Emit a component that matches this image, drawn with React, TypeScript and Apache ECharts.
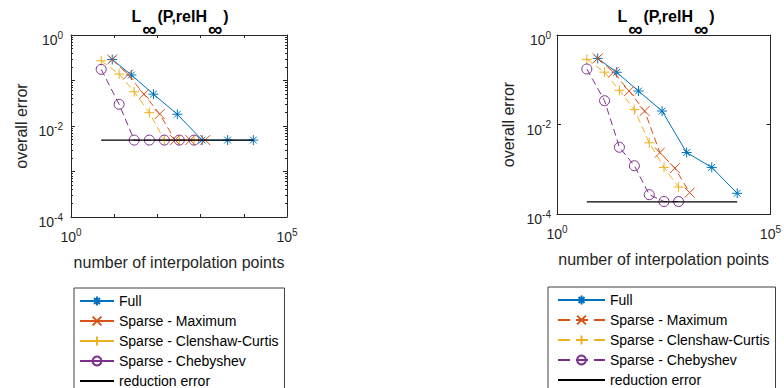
import React, { useEffect, useRef } from 'react';
import * as echarts from 'echarts';

// ---------- data ----------
const seriesNames = ['Full', 'Sparse - Maximum', 'Sparse - Clenshaw-Curtis', 'Sparse - Chebyshev', 'reduction error'];

const fullPoints = [9, 25, 81, 289, 1089, 4225, 16641];
const maxPoints = [9, 21, 49, 113, 257, 577, 1281];
const ccPoints = [5, 13, 29, 65, 145, 321, 705];
const chebPoints = [5, 13, 29, 65, 145, 321, 705];
const reductionPoints = [5, 16641];

const fullErrLeft = [0.29, 0.132, 0.05, 0.0181, 0.0049, 0.0049, 0.0049];
const maxErrLeft = [0.29, 0.135, 0.05, 0.0183, 0.0049, 0.0049, 0.0049];
const ccErrLeft = [0.272, 0.139, 0.0567, 0.0196, 0.0049, 0.0049, 0.0049];
const chebErrLeft = [0.176, 0.03, 0.0049, 0.0049, 0.0049, 0.0049, 0.0049];
const reductionLeft = [0.0049, 0.0049];

const fullErrRight = [0.3, 0.147, 0.056, 0.02, 0.00236, 0.0011, 0.00029];
const maxErrRight = [0.3, 0.147, 0.056, 0.02, 0.00236, 0.00106, 0.0003];
const ccErrRight = [0.285, 0.148, 0.058, 0.0215, 0.0039, 0.0011, 0.0004];
const chebErrRight = [0.174, 0.034, 0.0031, 0.0012, 0.00027, 0.00019, 0.00019];
const reductionRight = [0.000186, 0.000186];

// ---------- styles ----------
const FONT = '"Liberation Sans", Arial, Helvetica, sans-serif';
const TXT = '#262626';
const COLORS = ['#0072BD', '#D95319', '#EDB120', '#7E2F8E', '#000000'];
const STAR = 'path://M5,0L5,10M0,5L10,5M1.6,1.6L8.4,8.4M1.6,8.4L8.4,1.6';
const CROSS = 'path://M0,0L10,10M0,10L10,0';
const PLUS = 'path://M5,0L5,10M0,5L10,5';

const pairs = (xs: number[], ys: number[]) => xs.map((x, i) => [x, ys[i]]);

const labelRich = {
  a: { fontSize: 14, lineHeight: 20, fontFamily: FONT, color: TXT },
  b: { fontSize: 10, lineHeight: 10, verticalAlign: 'top', fontFamily: FONT, color: TXT },
};

const supFormatter = (show: (e: number) => boolean) => (v: number) => {
  const e = Math.round(Math.log10(v));
  return show(e) ? `{a|10}{b|${e}}` : '';
};

function makeSeries(xi: number, yi: number, errs: number[][]) {
  const pts = [fullPoints, maxPoints, ccPoints, chebPoints];
  const syms = [STAR, CROSS, PLUS, 'circle'];
  const out: any[] = pts.map((p, k) => ({
    type: 'line',
    name: seriesNames[k],
    xAxisIndex: xi,
    yAxisIndex: yi,
    data: pairs(p, errs[k]),
    symbol: syms[k],
    symbolSize: 10,
    showSymbol: true,
    itemStyle: { color: 'none', borderColor: COLORS[k], borderWidth: 1 },
    lineStyle: { color: COLORS[k], width: 1, type: k === 0 ? 'solid' : [7, 4] },
    emphasis: { disabled: true },
    z: 2 + k,
  }));
  out.push({
    type: 'line',
    name: seriesNames[4],
    xAxisIndex: xi,
    yAxisIndex: yi,
    data: pairs(reductionPoints, errs[4]),
    symbol: 'circle',
    showSymbol: false,
    itemStyle: { color: COLORS[4], opacity: 0 },
    lineStyle: { color: COLORS[4], width: 1.2, type: 'solid' },
    emphasis: { disabled: true },
    z: 10,
  });
  return out;
}

function xAxes(gridIndex: number, minor: boolean, labelInterval: number) {
  const base = {
    type: 'log',
    logBase: 10,
    gridIndex,
    min: 1,
    max: 100000,
    interval: minor ? 1 : 5,
    splitLine: { show: false },
    axisLine: { show: true, lineStyle: { color: TXT, width: 1 } },
    axisTick: { show: true, inside: true, length: 3, lineStyle: { color: TXT } },
  };
  return [
    {
      ...base,
      position: 'bottom',
      name: 'number of interpolation points',
      nameLocation: 'middle',
      nameGap: 37,
      nameTextStyle: { fontSize: 16, fontFamily: FONT, color: TXT },
      axisLabel: {
        margin: 10,
        formatter: supFormatter((e) => e % labelInterval === 0),
        rich: labelRich,
      },
    },
    { ...base, position: 'top', axisLabel: { show: false } },
  ];
}

function yAxes(gridIndex: number, minor: boolean, margin: number, nameGap: number) {
  const base = {
    type: 'log',
    logBase: 10,
    gridIndex,
    min: 0.0001,
    max: 1,
    interval: minor ? 1 : 2,
    splitLine: { show: false },
    axisLine: { show: true, lineStyle: { color: TXT, width: 1 } },
    axisTick: { show: true, inside: true, length: 4, lineStyle: { color: TXT } },
    minorTick: { show: minor, splitNumber: 9, length: 2, lineStyle: { color: TXT } },
  };
  return [
    {
      ...base,
      position: 'left',
      name: 'overall error',
      nameLocation: 'middle',
      nameGap,
      nameTextStyle: { fontSize: 16, fontFamily: FONT, color: TXT },
      axisLabel: {
        margin,
        padding: [10, 0, 0, 0],
        formatter: supFormatter((e) => e % 2 === 0),
        rich: labelRich,
      },
    },
    { ...base, position: 'right', axisLabel: { show: false } },
  ];
}

const titleRich = {
  b: { fontSize: 16, fontWeight: 'bold', lineHeight: 20, verticalAlign: 'top', fontFamily: FONT, color: '#000' },
  s: { fontSize: 20, fontWeight: 'bold', lineHeight: 12, padding: [11, 1, 0, 1], verticalAlign: 'top', fontFamily: FONT, color: '#000' },
};
const titleText = '{b|L}{s|∞}{b|(P,relH}{s|∞}{b|)}';

function legend(left: number, top: number, itemWidth: number, padLeft: number, lineType: any) {
  return {
    show: true,
    orient: 'vertical',
    left,
    top,
    height: 400,
    padding: [5, 6, 20, padLeft],
    itemWidth,
    itemHeight: 11,
    itemGap: 4,
    selectedMode: false,
    backgroundColor: '#fff',
    borderColor: '#404040',
    borderWidth: 1,
    borderRadius: 0,
    textStyle: { fontSize: 14, lineHeight: 16, fontFamily: FONT, color: '#000' },
    lineStyle: { type: lineType },
    data: seriesNames.map((name, i) =>
      i === 0 || i === 4 ? { name, lineStyle: { type: 'solid' } } : { name }
    ),
  };
}

export default function App() {
  const ref = useRef<HTMLDivElement>(null);
  useEffect(() => {
    if (!ref.current) return;
    const chart = echarts.init(ref.current, undefined, { renderer: 'svg' });
    chart.setOption({
      animation: false,
      backgroundColor: '#fff',
      textStyle: { fontFamily: FONT },
      grid: [
        { left: 71, top: 35, width: 216, height: 182, show: false },
        { left: 557, top: 35, width: 217, height: 179, show: false },
      ],
      xAxis: [...xAxes(0, true, 5), ...xAxes(1, false, 5)],
      yAxis: [...yAxes(0, true, 8, 42), ...yAxes(1, false, 6, 41)],
      legend: [legend(74, 288, 34, 5, 'solid'), legend(548, 287, 47, 9, [12, 6])],
      graphic: [
        { type: 'text', x: 180, y: 8, style: { text: titleText, rich: titleRich, align: 'center', verticalAlign: 'top' } },
        { type: 'text', x: 666, y: 8, style: { text: titleText, rich: titleRich, align: 'center', verticalAlign: 'top' } },
      ],
      series: [
        ...makeSeries(0, 0, [fullErrLeft, maxErrLeft, ccErrLeft, chebErrLeft, reductionLeft]),
        ...makeSeries(2, 2, [fullErrRight, maxErrRight, ccErrRight, chebErrRight, reductionRight]),
      ],
    });
    return () => chart.dispose();
  }, []);
  return <div ref={ref} style={{ position: 'absolute', left: 0, top: 0, width: 784, height: 388 }} />;
}
